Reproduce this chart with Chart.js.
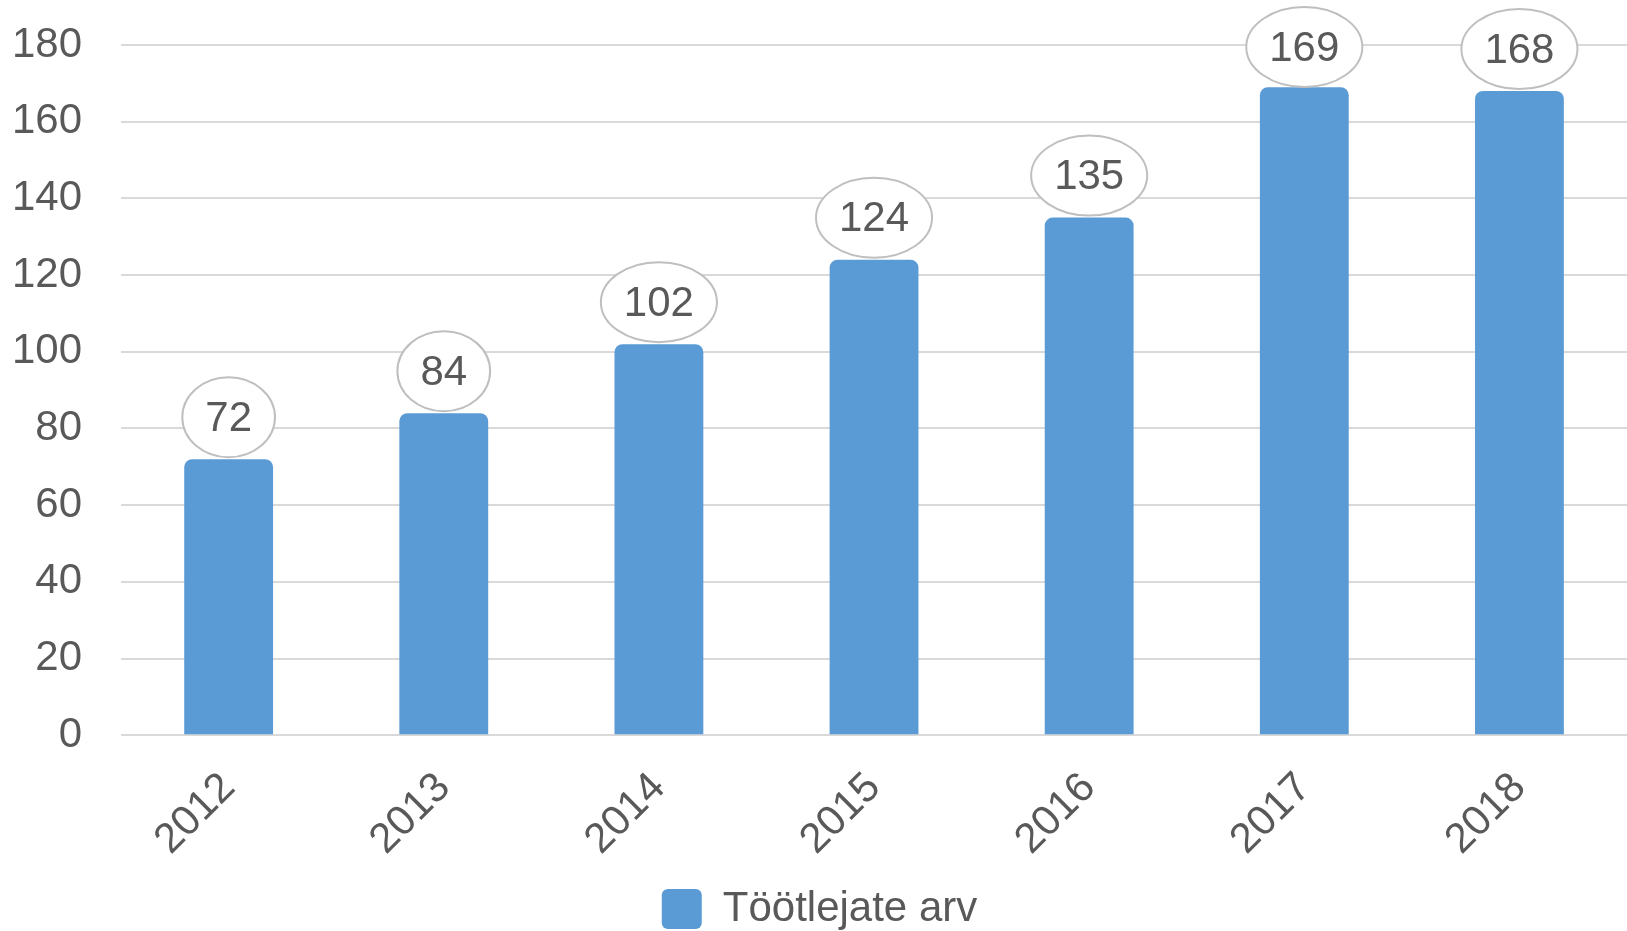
<html>
  <head>
    <title>Töötlejate arv</title>
    <script src="https://cdn.jsdelivr.net/npm/chart.js@4.4.0/dist/chart.umd.min.js"></script>
    <style>
      body { margin: 0; background: #fff; }
      #wrap { width: 1627px; height: 931px; }
    </style>
  </head>
  <body>
    <div id="wrap"><canvas id="bar-chart"></canvas></div>
  </body>
  <script>
    // data
    var years = ['2012', '2013', '2014', '2015', '2016', '2017', '2018'];
    var workers = [72, 84, 102, 124, 135, 169, 168];
    var yTicks = [0, 20, 40, 60, 80, 100, 120, 140, 160, 180];

    var grey = '#595959';
    var fontName = "'Liberation Sans', Arial, sans-serif";

    // oval value labels above the bars
    var ovalLabels = {
      id: 'ovalLabels',
      afterDatasetsDraw: function (chart) {
        var ctx = chart.ctx;
        var meta = chart.getDatasetMeta(0);
        ctx.save();
        ctx.font = '42px ' + fontName;
        ctx.textAlign = 'center';
        ctx.textBaseline = 'middle';
        meta.data.forEach(function (bar, i) {
          var txt = String(workers[i]);
          var tw = ctx.measureText(txt).width;
          var rx = tw / 2 + 23;
          var ry = 40;
          var cy = Math.max(bar.y - 42, ry + 7);
          ctx.beginPath();
          ctx.ellipse(bar.x, cy, rx, ry, 0, 0, Math.PI * 2);
          ctx.fillStyle = '#fff';
          ctx.fill();
          ctx.lineWidth = 2;
          ctx.strokeStyle = '#bfbfbf';
          ctx.stroke();
          ctx.fillStyle = grey;
          ctx.fillText(txt, bar.x, cy + 2);
        });
        ctx.restore();
      }
    };

    new Chart(document.getElementById('bar-chart'), {
      type: 'bar',
      data: {
        labels: years,
        datasets: [{
          label: 'Töötlejate arv',
          data: workers,
          backgroundColor: '#5b9bd5',
          borderRadius: { topLeft: 8, topRight: 8 },
          borderSkipped: 'start',
          barPercentage: 0.413,
          categoryPercentage: 1
        }]
      },
      options: {
        responsive: true,
        maintainAspectRatio: false,
        animation: false,
        layout: { padding: { top: 45, left: 12, right: 0, bottom: -9 } },
        plugins: {
          tooltip: { enabled: false },
          legend: {
            position: 'bottom',
            labels: {
              boxWidth: 40,
              boxHeight: 40,
              padding: 1,
              useBorderRadius: true,
              borderRadius: 6,
              color: grey,
              font: { family: fontName, size: 42 }
            }
          }
        },
        scales: {
          x: {
            grid: { display: false },
            border: { display: false },
            ticks: {
              color: grey,
              padding: 20,
              minRotation: 45,
              maxRotation: 45,
              font: { family: fontName, size: 42 }
            },
            afterFit: function (s) {
              // rotated labels should not push the plot area
              s.paddingLeft = 0;
              s.paddingRight = 0;
              s.height += 2;
            }
          },
          y: {
            min: 0,
            max: 180,
            afterBuildTicks: function (axis) {
              axis.ticks = yTicks.map(function (v) { return { value: v }; });
            },
            afterFit: function (s) {
              s.width -= 39;
              s.paddingTop = 0;
              s.paddingBottom = 0;
            },
            grid: { color: '#d9d9d9', lineWidth: 2, drawTicks: false },
            border: { display: false },
            ticks: {
              color: grey,
              padding: 39,
              font: { family: fontName, size: 42 }
            }
          }
        }
      },
      plugins: [ovalLabels]
    });
  </script>
</html>
